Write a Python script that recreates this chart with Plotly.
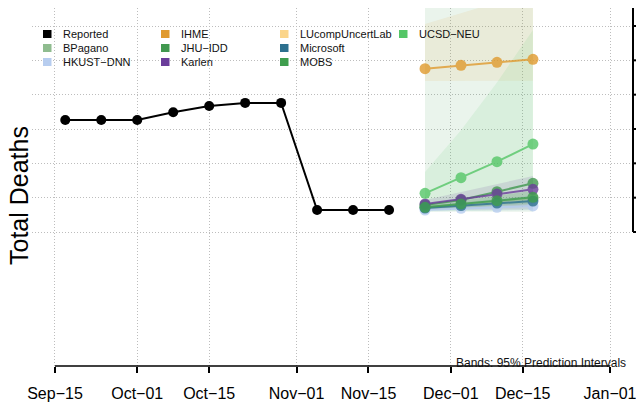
import plotly.graph_objects as go

# ---------------- data ----------------
reported_dates = ["2020-09-17", "2020-09-24", "2020-10-01", "2020-10-08", "2020-10-15",
                  "2020-10-22", "2020-10-29", "2020-11-05", "2020-11-12", "2020-11-19"]
reported_deaths = [1630, 1630, 1630, 1745, 1835, 1880, 1880, 320, 320, 320]

forecast_dates = ["2020-11-26", "2020-12-03", "2020-12-10", "2020-12-17"]

bpagano_median = [364, 408, 451, 488]
bpagano_lower = [330, 350, 370, 390]
bpagano_upper = [400, 470, 540, 600]

hkust_median = [320, 345, 360, 379]
hkust_lower = [300, 305, 310, 315]
hkust_upper = [345, 375, 400, 425]

ihme_median = [2378, 2427, 2471, 2515]
ihme_lower = [2198, 2200, 2200, 2202]
ihme_upper = [3030, 3190, 3345, 3500]

jhu_median = [393, 466, 587, 709]
jhu_lower = [300, 300, 295, 295]
jhu_upper = [3700, 3900, 4100, 4300]

karlen_median = [408, 476, 553, 622]
karlen_lower = [320, 320, 325, 330]
karlen_upper = [466, 582, 699, 815]

microsoft_median = [349, 386, 422, 451]
microsoft_lower = [320, 340, 355, 370]
microsoft_upper = [380, 430, 480, 530]

mobs_median = [360, 408, 456, 505]
mobs_lower = [330, 360, 385, 410]
mobs_upper = [390, 455, 525, 600]

ucsd_median = [563, 791, 1024, 1281]
ucsd_lower = [300, 310, 315, 320]
ucsd_upper = [874, 1480, 2179, 2942]

x_tick_dates = ["2020-09-15", "2020-10-01", "2020-10-15", "2020-11-01",
                "2020-11-15", "2020-12-01", "2020-12-15", "2021-01-01"]
x_tick_labels = ["Sep\u221215", "Oct\u221201", "Oct\u221215", "Nov\u221201",
                 "Nov\u221215", "Dec\u221201", "Dec\u221215", "Jan\u221201"]
y_grid_vals = [0, 500, 1000, 1500, 2000, 2500, 3000]

# ---------------- styling ----------------
FONT = "Liberation Sans, Arial, Helvetica, sans-serif"
colors = {
    "Reported": "#000000",
    "BPagano": "#8FBC8F",
    "HKUST\u2212DNN": "#B7CDEF",
    "IHME": "#E09A2E",
    "JHU\u2212IDD": "#41984F",
    "Karlen": "#6A3D9A",
    "LUcompUncertLab": "#FBD58A",
    "Microsoft": "#2D708E",
    "MOBS": "#3F9E4E",
    "UCSD\u2212NEU": "#55C667",
}

def rgba(hexc, a):
    h = hexc.lstrip("#")
    return "rgba(%d,%d,%d,%.3f)" % (int(h[0:2], 16), int(h[2:4], 16), int(h[4:6], 16), a)

W, H = 636, 410
Lw, Rw, Tw, Bw = 32, 631, 8, 366   # plot area in pixels

def px(x):
    return (x - Lw) / (Rw - Lw)

def py(y):
    return (Bw - y) / (Bw - Tw)

k = 500.0 / ((232 - 26) / 6.0)
ymax = (232 - Tw) * k
ymin = -(Bw - 232) * k

def val_to_paper(v):
    return (v - ymin) / (ymax - ymin)

fig = go.Figure()

# bands (drawn first)
bands = [
    ("JHU\u2212IDD", jhu_lower, jhu_upper, 0.11),
    ("IHME", ihme_lower, ihme_upper, 0.10),
    ("UCSD\u2212NEU", ucsd_lower, ucsd_upper, 0.11),
    ("Karlen", karlen_lower, karlen_upper, 0.14),
    ("BPagano", bpagano_lower, bpagano_upper, 0.15),
    ("HKUST\u2212DNN", hkust_lower, hkust_upper, 0.20),
    ("Microsoft", microsoft_lower, microsoft_upper, 0.10),
    ("MOBS", mobs_lower, mobs_upper, 0.15),
]
for name, lo, hi, a in bands:
    fig.add_trace(go.Scatter(
        x=forecast_dates + forecast_dates[::-1],
        y=hi + lo[::-1],
        fill="toself", fillcolor=rgba(colors[name], a),
        line=dict(width=0), mode="lines", hoverinfo="skip", showlegend=False))

# reported
fig.add_trace(go.Scatter(
    x=reported_dates, y=reported_deaths, mode="lines+markers",
    line=dict(color="black", width=2), marker=dict(color="black", size=10),
    showlegend=False))

# forecast medians
medians = [
    ("BPagano", bpagano_median),
    ("HKUST\u2212DNN", hkust_median),
    ("IHME", ihme_median),
    ("JHU\u2212IDD", jhu_median),
    ("Karlen", karlen_median),
    ("Microsoft", microsoft_median),
    ("MOBS", mobs_median),
    ("UCSD\u2212NEU", ucsd_median),
]
for name, med in medians:
    fig.add_trace(go.Scatter(
        x=forecast_dates, y=med, mode="lines+markers", opacity=0.8,
        line=dict(color=colors[name], width=2),
        marker=dict(color=colors[name], size=11),
        showlegend=False))

# ---------------- manual legend ----------------
legend_cols = [
    ["Reported", "BPagano", "HKUST\u2212DNN"],
    ["IHME", "JHU\u2212IDD", "Karlen"],
    ["LUcompUncertLab", "Microsoft", "MOBS"],
    ["UCSD\u2212NEU"],
]
col_swatch_x = [43, 161, 280, 399]
row_y = [34, 48, 62]
shapes = []
annotations = []
for ci, col in enumerate(legend_cols):
    for ri, name in enumerate(col):
        sx = col_swatch_x[ci]
        cy = row_y[ri]
        shapes.append(dict(type="rect", xref="paper", yref="paper",
                           x0=px(sx), x1=px(sx + 8.5), y0=py(cy + 4), y1=py(cy - 4),
                           fillcolor=colors[name], line=dict(width=0)))
        annotations.append(dict(text=name, xref="paper", yref="paper",
                                x=px(sx + 18), y=py(cy), xanchor="left", yanchor="middle",
                                showarrow=False, font=dict(family=FONT, size=11, color="#111")))

# x axis line (R style, only across tick range)
shapes.append(dict(type="line", xref="x", yref="paper",
                   x0=x_tick_dates[0], x1=x_tick_dates[-1], y0=0, y1=0,
                   line=dict(color="black", width=1.5)))

# right-hand axis (edge of a neighbouring panel)
axis_x = px(633)
shapes.append(dict(type="line", xref="paper", yref="paper",
                   x0=axis_x, x1=axis_x, y0=val_to_paper(y_grid_vals[0]), y1=1,
                   line=dict(color="black", width=2)))
for v in y_grid_vals:
    shapes.append(dict(type="line", xref="paper", yref="paper",
                       x0=axis_x, x1=px(640), y0=val_to_paper(v), y1=val_to_paper(v),
                       line=dict(color="black", width=2)))

annotations.append(dict(text="Total Deaths", xref="paper", yref="paper",
                        x=px(19), y=py(196), textangle=-90, showarrow=False,
                        xanchor="center", yanchor="middle",
                        font=dict(family=FONT, size=25, color="#000")))
annotations.append(dict(text="Bands: 95% Prediction Intervals", xref="paper", yref="paper",
                        x=px(628), y=py(363), xanchor="right", yanchor="middle",
                        showarrow=False, font=dict(family=FONT, size=12, color="#111")))

GRID = dict(showgrid=True, gridcolor="#BDBDBD", griddash="1px,2px", gridwidth=1)

fig.update_layout(
    width=W, height=H,
    margin=dict(l=Lw, r=W - Rw, t=Tw, b=H - Bw, pad=0),
    paper_bgcolor="white", plot_bgcolor="white",
    showlegend=False, hovermode=False,
    shapes=shapes, annotations=annotations,
    xaxis=dict(type="date", range=["2020-09-10 12:40", "2021-01-05 01:50"],
               tickvals=x_tick_dates, ticktext=x_tick_labels,
               ticks="outside", ticklen=6, tickwidth=1.5, tickcolor="black",
               ticklabelstandoff=7, ticklabeloverflow="allow",
               showline=False, zeroline=False, automargin=False,
               tickfont=dict(family=FONT, size=16, color="#000"), **GRID),
    yaxis=dict(range=[ymin, ymax], tickvals=y_grid_vals, showticklabels=False,
               ticks="", showline=False, zeroline=False, automargin=False, **GRID),
)

fig.write_html("out.html",
               config={"displayModeBar": False},
               post_script="document.body.style.margin='0px';document.body.style.overflow='hidden';")
